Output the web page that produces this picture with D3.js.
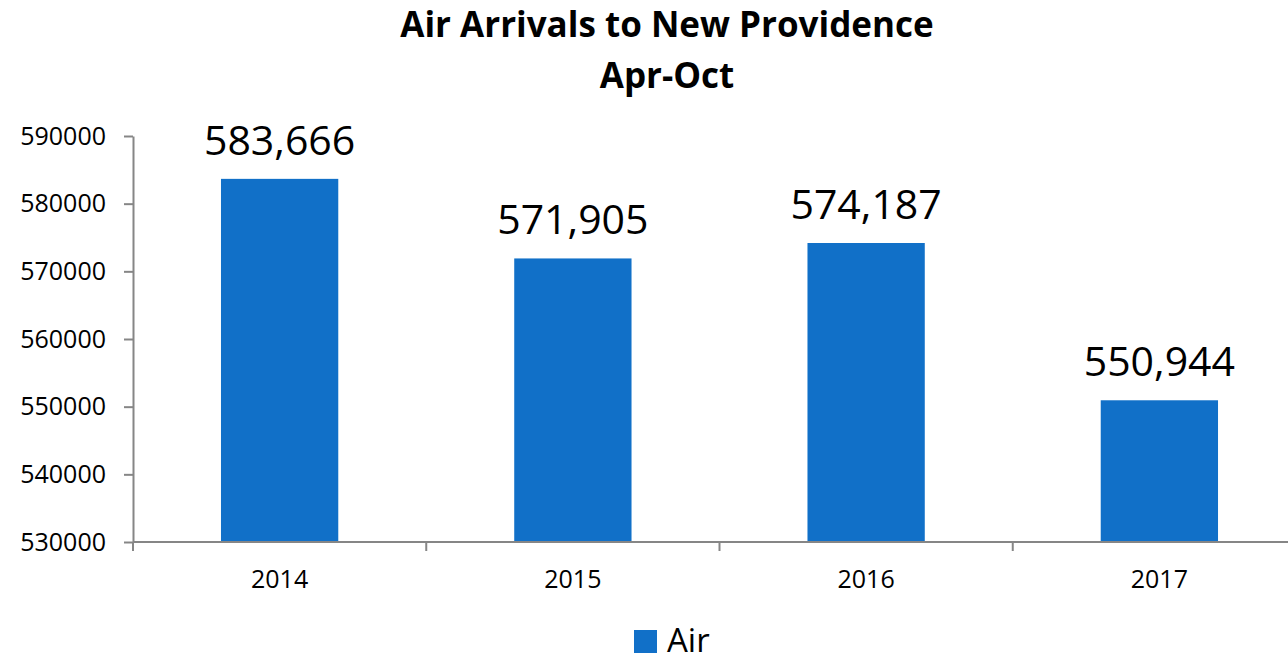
<!DOCTYPE html>
<html lang="en">
<head>
  <meta charset="UTF-8">
  <title>Air Arrivals to New Providence</title>
  <script src="https://d3js.org/d3.v7.min.js"></script>
  <style>
    body { margin: 0; background: #fff; font-family: "Open Sans", sans-serif; }
    .axis path, .axis line { stroke: #868686; stroke-width: 2; fill: none; }
    .axis text { fill: #000; font-size: 25px; font-family: "Open Sans", sans-serif; }
  </style>
</head>
<body>
  <svg width="1288" height="661"></svg>
  <script>
    const years = ["2014", "2015", "2016", "2017"];
    const arrivals = [583666, 571905, 574187, 550944];
    const yTicks = [530000, 540000, 550000, 560000, 570000, 580000, 590000];
    const seriesName = "Air";

    const svg = d3.select("svg");
    const barColor = "#1170c8";

    const x = d3.scaleBand()
      .domain(years)
      .range([133, 1306])
      .paddingInner(0.6)
      .paddingOuter(0.3);

    const y = d3.scaleLinear()
      .domain([530000, 590000])
      .range([542, 136]);

    // title
    svg.append("text")
      .attr("x", 667).attr("y", 37)
      .attr("text-anchor", "middle")
      .style("font-weight", "bold").style("font-size", "35px")
      .text("Air Arrivals to New Providence");
    svg.append("text")
      .attr("x", 667).attr("y", 88)
      .attr("text-anchor", "middle")
      .style("font-weight", "bold").style("font-size", "35px")
      .text("Apr-Oct");

    // bars
    svg.selectAll(".bar")
      .data(years)
      .enter().append("rect")
      .attr("class", "bar")
      .attr("x", d => x(d))
      .attr("width", x.bandwidth())
      .attr("y", (d, i) => y(arrivals[i]))
      .attr("height", (d, i) => y(530000) - y(arrivals[i]))
      .attr("fill", barColor);

    // value labels
    svg.selectAll(".val")
      .data(years)
      .enter().append("text")
      .attr("class", "val")
      .attr("x", d => x(d) + x.bandwidth() / 2)
      .attr("y", (d, i) => y(arrivals[i]) - 24)
      .attr("text-anchor", "middle")
      .style("font-size", "41px")
      .text((d, i) => d3.format(",")(arrivals[i]));

    // y axis
    svg.append("g")
      .attr("class", "axis")
      .attr("transform", "translate(133,0)")
      .call(d3.axisLeft(y).tickValues(yTicks).tickFormat(d3.format("d")).tickSize(9).tickPadding(18).tickSizeOuter(0));

    // x axis with ticks between categories
    const xa = svg.append("g")
      .attr("class", "axis")
      .attr("transform", "translate(0,542)");
    xa.append("line").attr("x1", 133).attr("x2", 1306).attr("y1", 0).attr("y2", 0);
    xa.selectAll(".sep")
      .data(years.concat(["end"]))
      .enter().append("line")
      .attr("x1", (d, i) => 133 + i * x.step())
      .attr("x2", (d, i) => 133 + i * x.step())
      .attr("y1", 0).attr("y2", 9);
    xa.selectAll(".lbl")
      .data(years)
      .enter().append("text")
      .attr("x", d => x(d) + x.bandwidth() / 2)
      .attr("y", 46)
      .attr("text-anchor", "middle")
      .text(d => d);

    // legend
    svg.append("rect")
      .attr("x", 634).attr("y", 630).attr("width", 23).attr("height", 23)
      .attr("fill", barColor);
    svg.append("text")
      .attr("x", 667).attr("y", 652)
      .style("font-size", "33px")
      .text(seriesName);
  </script>
</body>
</html>
